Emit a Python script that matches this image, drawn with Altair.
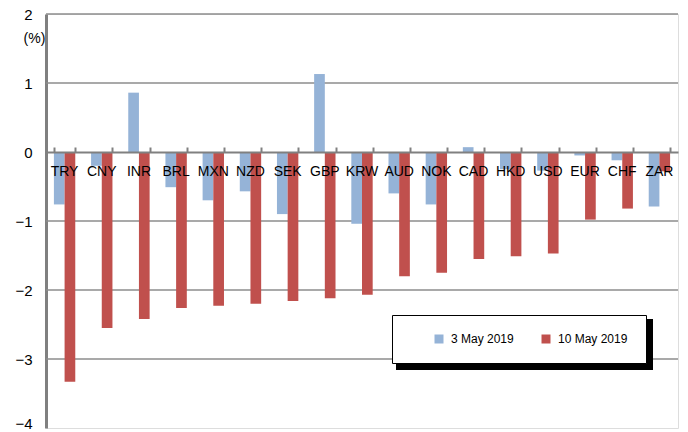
import altair as alt
import pandas as pd

categories = ["TRY", "CNY", "INR", "BRL", "MXN", "NZD", "SEK", "GBP", "KRW",
              "AUD", "NOK", "CAD", "HKD", "USD", "EUR", "CHF", "ZAR"]
may3 = [-0.76, -0.20, 0.86, -0.51, -0.70, -0.57, -0.90, 1.13, -1.04,
        -0.60, -0.76, 0.07, -0.25, -0.27, -0.05, -0.12, -0.79]
may10 = [-3.33, -2.55, -2.42, -2.26, -2.23, -2.20, -2.16, -2.12, -2.07,
         -1.80, -1.75, -1.55, -1.51, -1.47, -0.98, -0.82, -0.28]
series = ["3 May 2019", "10 May 2019"]
colors = ["#95B3D7", "#C0504D"]
grid_values = [2, 1, -1, -2, -3]
y_ticks = [2, 1, 0, -1, -2, -3, -4]

rows = []
for c, a, b in zip(categories, may3, may10):
    rows.append({"cur": c, "series": series[0], "value": a})
    rows.append({"cur": c, "series": series[1], "value": b})
df = pd.DataFrame(rows)
cat_df = pd.DataFrame({"cur": categories})
grid_df = pd.DataFrame({"value": grid_values})

FONT = "Liberation Sans, Arial"
GRAY = "#8C8C8C"

yscale = alt.Scale(domain=[-4, 2], nice=False)
yaxis = alt.Axis(values=y_ticks, format="d", grid=False, title="(%)", titleAngle=0,
                 titleX=-12, titleY=24, titleAlign="center", titleBaseline="middle",
                 titleFont=FONT, titleFontSize=14, titleFontWeight="normal",
                 titleColor="black", domainColor="#808080", domainWidth=3,
                 ticks=False, labelPadding=14, labelFont=FONT, labelFontSize=15,
                 labelColor="black",
                 labelBaseline=alt.ExprRef("datum.value == -4 ? 'alphabetic' : 'middle'"))
xscale = alt.Scale(paddingInner=0.425, paddingOuter=0.2125)

grid = alt.Chart(grid_df).mark_rule(color=GRAY, strokeWidth=1.5).encode(
    y=alt.Y("value:Q", scale=yscale, axis=yaxis)
)

shadow = alt.Chart(cat_df).mark_rect(color="black").encode(
    x=alt.value(350), x2=alt.value(607), y=alt.value(305), y2=alt.value(356)
).transform_filter(alt.datum.cur == "TRY")

bars = alt.Chart(df).mark_bar().encode(
    x=alt.X("cur:N", sort=categories, scale=xscale,
            axis=alt.Axis(orient="top", offset=-138, labels=False, title=None,
                          domainColor="#808080", domainWidth=2, tickColor="#808080",
                          tickWidth=2, tickSize=5, tickBand="extent", zindex=1)),
    xOffset=alt.XOffset("series:N", sort=series, scale=alt.Scale(paddingInner=0, paddingOuter=0)),
    y=alt.Y("value:Q", scale=yscale, axis=yaxis),
    color=alt.Color("series:N", sort=series,
                    scale=alt.Scale(domain=series, range=colors),
                    legend=alt.Legend(orient="none", legendX=346, legendY=301,
                                      direction="horizontal", title=None,
                                      fillColor="white", strokeColor="black",
                                      padding=18, symbolType="square", symbolSize=81,
                                      symbolStrokeWidth=0, labelFont=FONT,
                                      labelFontSize=12, labelColor="black",
                                      symbolOffset=23, labelOffset=6,
                                      columnPadding=3)),
)

labels = alt.Chart(cat_df).mark_text(font=FONT, fontSize=14, color="black",
                                     baseline="middle", dy=20).encode(
    x=alt.X("cur:N", sort=categories, scale=xscale),
    y=alt.datum(0),
    text="cur:N",
)

chart = alt.layer(grid, shadow, bars, labels).properties(
    width=632, height=414,
    autosize=alt.AutoSizeParams(type="none"),
    padding={"left": 46, "top": 14, "right": 10, "bottom": 4},
).configure_view(fill="#FFFFCC", stroke="transparent").configure(background="white")

chart.save("out.html", embed_options={"renderer": "svg", "actions": False})
